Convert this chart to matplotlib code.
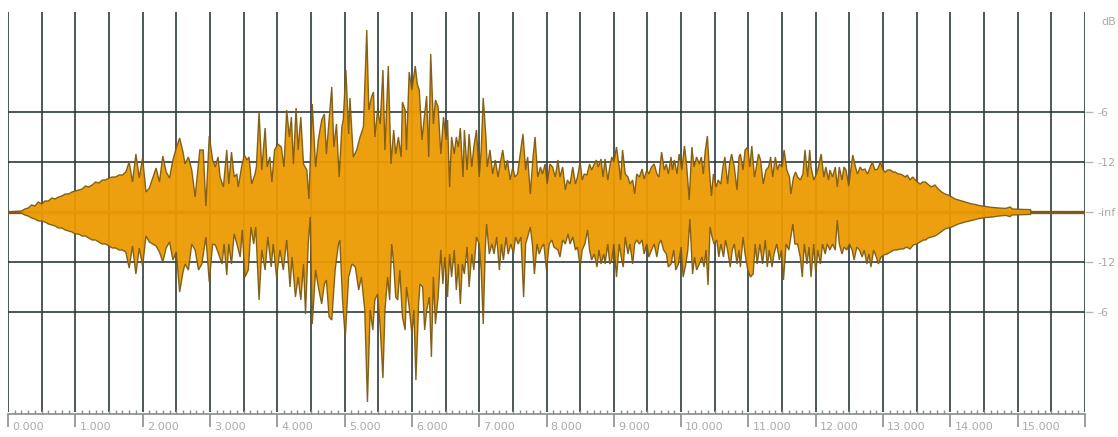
import numpy as np
import matplotlib
matplotlib.use("Agg")
from matplotlib import pyplot as plt
from matplotlib.transforms import ScaledTranslation

# waveform envelope: (seconds, linear amplitude)
# upper half of the wave
upper_a = [(0.00, 0), (0.20, 0.005), (0.25, 0.015), (0.30, 0.02), (0.35, 0.035), (0.40, 0.03),
           (0.45, 0.05), (0.50, 0.04), (0.55, 0.055), (0.60, 0.055), (0.65, 0.07), (0.70, 0.065),
           (0.75, 0.075), (0.80, 0.08), (0.85, 0.09), (0.90, 0.09), (0.95, 0.10), (1.00, 0.105),
           (1.05, 0.11), (1.10, 0.115), (1.15, 0.13), (1.20, 0.125), (1.25, 0.135), (1.30, 0.15),
           (1.35, 0.145), (1.40, 0.16), (1.45, 0.16), (1.50, 0.17), (1.55, 0.175), (1.60, 0.175),
           (1.65, 0.185), (1.70, 0.185), (1.75, 0.20), (1.80, 0.25), (1.85, 0.15), (1.90, 0.29),
           (1.95, 0.17), (2.00, 0.27), (2.05, 0.10), (2.10, 0.12), (2.15, 0.17), (2.20, 0.22),
           (2.25, 0.15), (2.30, 0.28), (2.35, 0.20), (2.40, 0.17), (2.45, 0.26), (2.50, 0.32),
           (2.55, 0.37), (2.60, 0.30)]
upper_b = [(2.63, 0.24), (2.68, 0.275), (2.73, 0.21), (2.78, 0.075), (2.85, 0.31), (2.90, 0.31),
           (2.94, 0.03), (2.99, 0.38), (3.04, 0.26), (3.08, 0.225), (3.12, 0.275), (3.15, 0.175),
           (3.20, 0.125), (3.25, 0.31), (3.28, 0.14), (3.32, 0.30), (3.36, 0.175), (3.40, 0.19),
           (3.42, 0.125), (3.47, 0.225), (3.51, 0.285), (3.55, 0.26), (3.58, 0.275), (3.62, 0.14),
           (3.67, 0.19), (3.69, 0.225), (3.73, 0.50), (3.77, 0.21), (3.82, 0.42), (3.85, 0.225),
           (3.89, 0.275), (3.92, 0.15), (3.96, 0.31), (4.01, 0.34), (4.06, 0.325), (4.10, 0.225),
           (4.14, 0.51), (4.18, 0.375), (4.21, 0.475), (4.24, 0.24), (4.28, 0.52), (4.31, 0.31),
           (4.35, 0.475), (4.39, 0.24), (4.44, 0.21), (4.47, 0.065), (4.52, 0.54), (4.57, 0.225),
           (4.61, 0.36), (4.66, 0.46), (4.70, 0.49), (4.73, 0.29), (4.77, 0.46), (4.81, 0.625),
           (4.84, 0.325), (4.88, 0.44), (4.92, 0.175), (4.96, 0.425), (4.98, 0.46), (5.02, 0.71),
           (5.06, 0.39), (5.08, 0.57), (5.13, 0.275), (5.18, 0.31), (5.23, 0.375), (5.28, 0.425),
           (5.33, 0.91), (5.36, 0.51)]
upper_c = [(5.40, 0.575), (5.43, 0.60), (5.45, 0.375), (5.49, 0.51), (5.53, 0.44), (5.57, 0.71),
           (5.60, 0.31), (5.65, 0.73), (5.69, 0.24), (5.73, 0.41), (5.76, 0.29), (5.80, 0.375),
           (5.84, 0.275), (5.86, 0.55), (5.90, 0.51), (5.92, 0.31), (5.96, 0.70), (6.00, 0.61),
           (6.05, 0.73), (6.08, 0.64), (6.11, 0.61), (6.15, 0.36), (6.18, 0.46), (6.22, 0.58),
           (6.25, 0.275), (6.28, 0.79), (6.32, 0.44), (6.35, 0.56), (6.39, 0.525), (6.43, 0.29),
           (6.47, 0.475), (6.51, 0.36), (6.53, 0.46), (6.56, 0.125), (6.59, 0.375), (6.63, 0.29),
           (6.66, 0.375), (6.69, 0.325), (6.72, 0.42), (6.76, 0.175), (6.78, 0.41), (6.82, 0.21),
           (6.85, 0.39), (6.89, 0.225), (6.92, 0.325), (6.96, 0.41), (7.00, 0.175), (7.03, 0.31),
           (7.06, 0.57), (7.10, 0.375), (7.12, 0.225), (7.16, 0.31), (7.20, 0.19), (7.24, 0.26),
           (7.28, 0.175), (7.31, 0.24), (7.35, 0.31), (7.39, 0.21), (7.42, 0.26), (7.46, 0.16),
           (7.50, 0.225), (7.53, 0.175), (7.57, 0.19), (7.61, 0.29), (7.65, 0.39), (7.69, 0.21),
           (7.72, 0.275), (7.76, 0.09), (7.80, 0.275), (7.83, 0.375), (7.87, 0.175), (7.91, 0.225),
           (7.94, 0.19), (7.98, 0.24), (8.01, 0.14), (8.05, 0.24), (8.09, 0.225), (8.13, 0.175)]
upper_d = [(8.17, 0.26), (8.20, 0.175), (8.24, 0.225), (8.28, 0.11), (8.31, 0.16), (8.35, 0.14),
           (8.39, 0.225), (8.43, 0.14), (8.46, 0.175), (8.50, 0.25), (8.53, 0.16), (8.56, 0.19),
           (8.60, 0.185), (8.64, 0.24), (8.67, 0.21), (8.71, 0.24), (8.74, 0.26), (8.77, 0.225),
           (8.81, 0.265), (8.84, 0.175), (8.87, 0.265), (8.91, 0.16), (8.94, 0.225), (8.97, 0.275),
           (9.00, 0.25), (9.04, 0.325), (9.08, 0.225), (9.10, 0.16), (9.13, 0.31), (9.17, 0.19),
           (9.21, 0.175), (9.24, 0.14), (9.28, 0.16), (9.31, 0.09), (9.34, 0.19), (9.38, 0.175),
           (9.42, 0.215), (9.45, 0.165), (9.49, 0.21), (9.52, 0.19), (9.56, 0.225), (9.60, 0.24),
           (9.64, 0.19), (9.67, 0.175), (9.71, 0.30), (9.75, 0.21), (9.78, 0.24), (9.81, 0.19),
           (9.85, 0.275), (9.87, 0.21), (9.90, 0.26), (9.94, 0.19), (9.97, 0.29), (10.01, 0.21),
           (10.05, 0.33), (10.08, 0.24), (10.12, 0.06), (10.16, 0.325), (10.19, 0.225), (10.23, 0.275),
           (10.27, 0.24), (10.30, 0.275), (10.33, 0.19), (10.36, 0.31), (10.39, 0.38), (10.42, 0.21),
           (10.45, 0.08), (10.48, 0.19), (10.52, 0.125), (10.55, 0.16), (10.59, 0.14), (10.62, 0.225),
           (10.65, 0.275), (10.69, 0.14), (10.72, 0.24), (10.75, 0.29), (10.79, 0.225), (10.83, 0.11),
           (10.86, 0.275)]
upper_e = [(10.88, 0.29), (10.92, 0.21), (10.95, 0.31), (10.99, 0.325), (11.02, 0.225), (11.05, 0.33),
           (11.09, 0.175), (11.11, 0.21), (11.15, 0.29), (11.18, 0.26), (11.22, 0.14), (11.26, 0.21),
           (11.30, 0.225), (11.33, 0.275), (11.36, 0.175), (11.40, 0.275), (11.43, 0.21), (11.46, 0.24),
           (11.50, 0.225), (11.53, 0.31), (11.57, 0.21), (11.61, 0.175), (11.63, 0.09), (11.67, 0.175),
           (11.70, 0.20), (11.73, 0.175), (11.77, 0.16), (11.81, 0.19), (11.84, 0.31), (11.88, 0.175),
           (11.91, 0.31), (11.93, 0.225), (11.97, 0.16), (12.01, 0.19), (12.04, 0.225), (12.08, 0.29),
           (12.12, 0.175), (12.15, 0.225), (12.19, 0.16), (12.21, 0.21), (12.25, 0.175), (12.29, 0.225),
           (12.32, 0.125), (12.35, 0.225), (12.39, 0.16), (12.42, 0.225), (12.45, 0.21), (12.49, 0.13),
           (12.52, 0.21), (12.55, 0.285), (12.59, 0.225), (12.62, 0.19), (12.66, 0.225), (12.69, 0.21),
           (12.73, 0.215), (12.77, 0.19), (12.81, 0.225), (12.84, 0.25), (12.88, 0.21), (12.92, 0.215),
           (12.96, 0.25), (13.00, 0.21), (13.03, 0.20), (13.07, 0.21), (13.11, 0.21), (13.15, 0.20),
           (13.18, 0.20), (13.22, 0.19), (13.25, 0.19), (13.29, 0.185), (13.33, 0.175), (13.36, 0.185),
           (13.40, 0.16), (13.44, 0.175), (13.48, 0.16), (13.51, 0.15), (13.55, 0.14), (13.59, 0.15),
           (13.63, 0.15), (13.68, 0.135), (13.72, 0.125), (13.77, 0.135), (13.82, 0.115), (13.87, 0.10),
           (13.92, 0.09), (13.97, 0.085), (14.02, 0.075), (14.07, 0.065), (14.12, 0.06), (14.17, 0.055),
           (14.22, 0.05), (14.27, 0.045), (14.32, 0.04), (14.37, 0.038), (14.42, 0.033), (14.47, 0.03),
           (14.52, 0.028), (14.57, 0.025), (14.62, 0.023), (14.72, 0.02), (14.82, 0.018), (14.89, 0.025),
           (14.92, 0.015), (15.06, 0.013), (15.19, 0.012), (15.20, 0.0), (16.0, 0.0)]

# lower half of the wave (depth below zero)
lower_a = [(0.00, 0), (0.20, 0.005), (0.25, 0.015), (0.30, 0.02), (0.35, 0.03), (0.40, 0.035),
           (0.45, 0.045), (0.50, 0.045), (0.55, 0.05), (0.60, 0.06), (0.65, 0.065), (0.70, 0.07),
           (0.75, 0.08), (0.80, 0.08), (0.85, 0.09), (0.90, 0.095), (0.95, 0.10), (1.00, 0.11),
           (1.05, 0.11), (1.10, 0.12), (1.15, 0.12), (1.20, 0.13), (1.25, 0.14), (1.30, 0.14),
           (1.35, 0.15), (1.40, 0.16), (1.45, 0.16), (1.50, 0.17), (1.55, 0.18), (1.60, 0.18),
           (1.65, 0.19), (1.70, 0.19), (1.75, 0.20), (1.80, 0.28), (1.85, 0.17), (1.90, 0.31),
           (1.95, 0.18), (2.00, 0.27), (2.05, 0.12), (2.10, 0.15), (2.15, 0.16), (2.20, 0.17),
           (2.25, 0.20), (2.30, 0.25), (2.35, 0.18), (2.40, 0.15), (2.45, 0.24), (2.50, 0.20),
           (2.55, 0.40), (2.60, 0.30)]
lower_b = [(2.63, 0.26), (2.68, 0.29), (2.73, 0.16), (2.78, 0.19), (2.83, 0.29), (2.88, 0.26),
           (2.94, 0.125), (2.99, 0.35), (3.04, 0.16), (3.08, 0.165), (3.13, 0.21), (3.18, 0.26),
           (3.21, 0.16), (3.25, 0.315), (3.28, 0.16), (3.32, 0.26), (3.36, 0.11), (3.40, 0.16),
           (3.45, 0.225), (3.48, 0.09), (3.52, 0.325), (3.57, 0.29), (3.61, 0.075), (3.65, 0.16),
           (3.68, 0.075), (3.73, 0.44), (3.77, 0.19), (3.82, 0.29), (3.86, 0.125), (3.91, 0.275),
           (3.94, 0.16), (3.99, 0.325), (4.04, 0.19), (4.09, 0.29), (4.14, 0.14), (4.19, 0.375),
           (4.22, 0.225), (4.27, 0.425), (4.31, 0.325), (4.35, 0.44), (4.39, 0.26), (4.42, 0.51),
           (4.46, 0.16), (4.49, 0.025), (4.52, 0.56), (4.57, 0.29), (4.61, 0.375), (4.66, 0.46),
           (4.70, 0.36), (4.73, 0.34), (4.77, 0.525), (4.81, 0.54), (4.86, 0.29), (4.91, 0.16),
           (4.93, 0.14), (4.97, 0.44), (5.01, 0.63), (5.06, 0.325), (5.11, 0.26), (5.16, 0.275),
           (5.21, 0.39), (5.25, 0.325), (5.30, 0.49), (5.34, 0.95), (5.38, 0.49)]
lower_c = [(5.42, 0.59), (5.45, 0.44), (5.49, 0.41), (5.53, 0.58), (5.57, 0.83), (5.60, 0.49),
           (5.64, 0.325), (5.67, 0.44), (5.70, 0.16), (5.73, 0.26), (5.76, 0.425), (5.79, 0.44),
           (5.82, 0.29), (5.86, 0.525), (5.90, 0.59), (5.92, 0.375), (5.96, 0.475), (6.00, 0.61),
           (6.03, 0.49), (6.06, 0.84), (6.10, 0.46), (6.12, 0.36), (6.16, 0.375), (6.19, 0.59),
           (6.22, 0.49), (6.26, 0.425), (6.29, 0.725), (6.32, 0.325), (6.35, 0.56), (6.39, 0.425),
           (6.43, 0.19), (6.46, 0.36), (6.49, 0.225), (6.53, 0.425), (6.56, 0.21), (6.59, 0.325),
           (6.63, 0.19), (6.66, 0.39), (6.69, 0.26), (6.72, 0.46), (6.75, 0.26), (6.78, 0.31),
           (6.82, 0.175), (6.85, 0.375), (6.89, 0.21), (6.92, 0.29), (6.96, 0.125), (7.00, 0.16),
           (7.03, 0.29), (7.06, 0.56), (7.09, 0.19), (7.11, 0.06), (7.15, 0.21), (7.19, 0.16),
           (7.22, 0.21), (7.26, 0.125), (7.30, 0.29), (7.33, 0.16), (7.36, 0.24), (7.40, 0.125),
           (7.43, 0.21), (7.47, 0.16), (7.51, 0.21), (7.54, 0.125), (7.58, 0.16), (7.62, 0.125),
           (7.66, 0.425), (7.69, 0.16), (7.72, 0.125), (7.76, 0.075), (7.79, 0.16), (7.82, 0.31),
           (7.86, 0.16), (7.89, 0.21), (7.93, 0.175), (7.96, 0.16), (8.00, 0.29), (8.04, 0.16),
           (8.08, 0.14), (8.11, 0.175)]
lower_d = [(8.17, 0.19), (8.20, 0.225), (8.24, 0.14), (8.28, 0.16), (8.32, 0.11), (8.35, 0.16),
           (8.39, 0.125), (8.43, 0.19), (8.46, 0.175), (8.50, 0.275), (8.53, 0.19), (8.57, 0.16),
           (8.61, 0.09), (8.64, 0.19), (8.67, 0.24), (8.71, 0.21), (8.75, 0.275), (8.78, 0.19),
           (8.81, 0.26), (8.85, 0.21), (8.87, 0.26), (8.91, 0.16), (8.94, 0.26), (8.97, 0.24),
           (9.00, 0.16), (9.04, 0.325), (9.08, 0.16), (9.11, 0.225), (9.14, 0.275), (9.17, 0.125),
           (9.21, 0.21), (9.24, 0.16), (9.28, 0.26), (9.31, 0.16), (9.34, 0.14), (9.38, 0.16),
           (9.42, 0.14), (9.45, 0.21), (9.49, 0.16), (9.52, 0.225), (9.56, 0.19), (9.60, 0.16),
           (9.64, 0.225), (9.67, 0.16), (9.70, 0.14), (9.74, 0.19), (9.78, 0.21), (9.81, 0.275),
           (9.85, 0.26), (9.89, 0.19), (9.92, 0.29), (9.96, 0.26), (10.00, 0.175), (10.03, 0.325),
           (10.07, 0.26), (10.10, 0.19), (10.13, 0.035), (10.17, 0.31), (10.20, 0.225), (10.23, 0.29),
           (10.27, 0.26), (10.31, 0.225), (10.34, 0.275), (10.37, 0.19), (10.40, 0.365), (10.43, 0.075),
           (10.46, 0.125), (10.49, 0.16), (10.53, 0.14), (10.56, 0.225), (10.59, 0.16), (10.63, 0.225),
           (10.66, 0.14), (10.69, 0.19), (10.73, 0.275), (10.76, 0.19), (10.79, 0.16), (10.83, 0.26),
           (10.86, 0.19)]
lower_e = [(10.88, 0.275), (10.92, 0.125), (10.95, 0.21), (10.99, 0.29), (11.03, 0.325), (11.07, 0.31),
           (11.10, 0.16), (11.13, 0.26), (11.17, 0.16), (11.21, 0.26), (11.25, 0.14), (11.28, 0.275),
           (11.31, 0.19), (11.35, 0.275), (11.38, 0.21), (11.42, 0.16), (11.46, 0.24), (11.49, 0.19),
           (11.52, 0.34), (11.56, 0.16), (11.60, 0.19), (11.63, 0.125), (11.66, 0.06), (11.69, 0.16),
           (11.73, 0.16), (11.77, 0.225), (11.80, 0.325), (11.83, 0.16), (11.87, 0.26), (11.90, 0.175),
           (11.93, 0.325), (11.97, 0.16), (12.00, 0.31), (12.03, 0.19), (12.07, 0.26), (12.10, 0.16),
           (12.14, 0.21), (12.17, 0.16), (12.21, 0.19), (12.25, 0.16), (12.29, 0.19), (12.32, 0.04),
           (12.35, 0.16), (12.39, 0.21), (12.42, 0.175), (12.46, 0.19), (12.50, 0.16), (12.54, 0.19),
           (12.57, 0.24), (12.61, 0.175), (12.65, 0.19), (12.69, 0.225), (12.72, 0.19), (12.76, 0.26),
           (12.79, 0.21), (12.82, 0.275), (12.86, 0.19), (12.90, 0.225), (12.93, 0.26), (12.97, 0.225),
           (13.01, 0.215), (13.06, 0.21), (13.11, 0.20), (13.16, 0.19), (13.21, 0.19), (13.25, 0.185),
           (13.30, 0.185), (13.35, 0.175), (13.40, 0.185), (13.45, 0.165), (13.50, 0.16), (13.55, 0.15),
           (13.60, 0.14), (13.63, 0.14), (13.67, 0.13), (13.72, 0.125), (13.77, 0.12), (13.82, 0.11),
           (13.92, 0.085), (14.02, 0.075), (14.12, 0.06), (14.22, 0.05), (14.32, 0.042), (14.42, 0.033),
           (14.52, 0.028), (14.62, 0.025), (14.72, 0.02), (14.82, 0.017), (14.89, 0.023), (14.91, 0.015),
           (15.11, 0.013), (15.19, 0.012), (15.20, 0.0), (16.0, 0.0)]

# axis scales
t_end = 16.0
sec_ticks = list(range(0, 17))
sec_labels = ["%.3f" % s for s in range(16)] + [""]
db_ticks = [0.5, 0.25, 0.0, -0.25, -0.5]
db_labels = ["-6", "-12", "-inf", "-12", "-6"]

fig = plt.figure(figsize=(11.18, 4.37), dpi=100)
ax = fig.add_axes([8 / 1118, 25 / 437, 1077 / 1118, 400 / 437])
ax.set_xlim(0, t_end)
ax.set_ylim(-1, 1)

# dark grid, half seconds and dB lines
grid_col = "#2e3c3c"
ax.vlines(np.arange(0, t_end + 0.01, 0.5), -1, 1, color=grid_col, lw=1.2, zorder=1)
ax.hlines([v for v in db_ticks if v != 0], 0, t_end, color=grid_col, lw=1.2, zorder=1)

up = np.array(upper_a + upper_b + upper_c + upper_d + upper_e)
lo = np.array(lower_a + lower_b + lower_c + lower_d + lower_e)
xs = np.concatenate([up[:, 0], lo[::-1, 0]])
ys = np.concatenate([up[:, 1], -lo[::-1, 1]])

ax.plot([0, t_end], [0, 0], color="#8a5a12", lw=2.4, zorder=2, solid_capstyle="butt")
ax.fill(xs, ys, facecolor="#ec9a00", edgecolor="#7d5a12", lw=1.0, alpha=0.94, zorder=3)

# axes styling
for s in ["top", "left", "right"]:
    ax.spines[s].set_visible(False)
ax.spines["bottom"].set_color("#8c8c8c")
ax.spines["bottom"].set_linewidth(1.2)
ax.spines["bottom"].set_position(("outward", 1.5))

lab_col = "#aaaaaa"
ax.set_xticks(sec_ticks)
ax.set_xticklabels(sec_labels)
ax.set_xticks(np.arange(0, t_end + 0.01, 0.1), minor=True)
ax.tick_params(axis="x", which="major", direction="out", length=9, width=1.2,
               color="#8c8c8c", labelsize=8, labelcolor=lab_col, pad=-3)
ax.tick_params(axis="x", which="minor", direction="in", length=3, width=1, color="#8c8c8c")
for lbl in ax.get_xticklabels():
    lbl.set_ha("left")
    lbl.set_transform(lbl.get_transform() + ScaledTranslation(3 / 72, 0, fig.dpi_scale_trans))

ax.yaxis.tick_right()
ax.set_yticks(db_ticks)
ax.set_yticklabels(db_labels)
ax.tick_params(axis="y", which="major", length=6, width=1, color="#b8b8b8",
               labelsize=8, labelcolor=lab_col, pad=3)
ax.annotate("dB", xy=(1, 0.95), xycoords=("axes fraction", "data"), xytext=(12, 0),
            textcoords="offset points", ha="left", va="center", fontsize=8, color=lab_col)

fig.savefig("out.png", dpi=100)
